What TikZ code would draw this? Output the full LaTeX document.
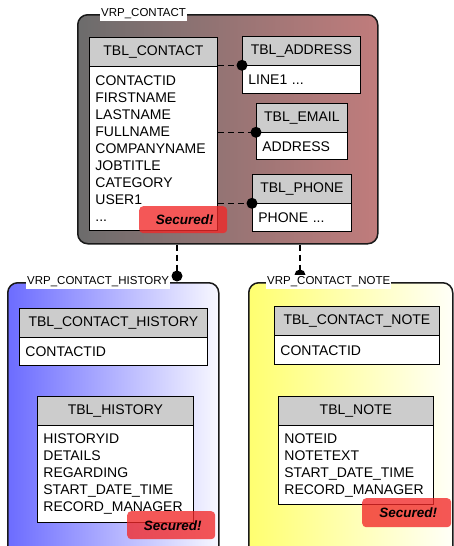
\documentclass[tikz,border=0pt]{standalone}
\usepackage{fontspec}
\setmainfont{Liberation Sans}
\usepackage{tikz}
\usetikzlibrary{arrows,backgrounds}

\definecolor{vrpgray}{RGB}{108,108,108}
\definecolor{vrprose}{RGB}{192,124,124}
\definecolor{vrpblue}{RGB}{108,108,255}
\definecolor{vrpyellow}{RGB}{255,255,112}
\definecolor{tblgray}{RGB}{204,204,204}
\definecolor{securedred}{RGB}{242,40,40}

\tikzset{
  view/.style={draw=black!90, line width=1.5pt, rounded corners=10pt, anchor=north west, inner sep=0pt},
  viewlabel/.style={fill=white, anchor=west, inner xsep=1pt, inner ysep=1.5pt, font=\fontsize{11.5}{12}\selectfont},
  tblhead/.style={draw, line width=0.8pt, fill=tblgray, anchor=north west, inner sep=0pt, minimum height=28.5pt, font=\fontsize{14}{17}\selectfont},
  tblbody/.style={draw, line width=0.8pt, fill=white, anchor=north west, inner xsep=6pt, inner ysep=0pt, align=left, font=\fontsize{14}{17}\selectfont},
  secured/.style={fill=securedred, fill opacity=0.78, text opacity=1, rounded corners=4pt, anchor=north west, inner sep=0pt, font=\fontsize{13.5}{15}\selectfont\bfseries\itshape},
  link/.style={dash pattern=on 6pt off 4pt, line width=1.3pt},
  linkdot/.style={fill, circle, inner sep=0pt, minimum size=11pt}
}

\begin{document}
\begin{tikzpicture}[x=1pt,y=-1pt]
   \useasboundingbox (0,0) rectangle (454,546);
   \clip (0,0) rectangle (454,546);

   \node[view, left color=vrpgray, right color=vrprose, minimum width=300pt, minimum height=229pt] (vrpcontact) at (77,14) {};
   \node[view, left color=vrpblue, right color=vrpblue!5, minimum width=211pt, minimum height=290pt] (vrphistory) at (7,282) {};
   \node[view, left color=vrpyellow, right color=vrpyellow!5, minimum width=204pt, minimum height=290pt] (vrpnote) at (248,282) {};

   \coordinate (histdot) at (177,276);
   \coordinate (notedot) at (300,275);
   \draw[link] (vrpcontact.south -| histdot) -- (histdot);
   \draw[link] (vrpcontact.south -| notedot) -- (notedot);
   \node[linkdot] (histdotfill) at (histdot) {};
   \node[linkdot] (notedotfill) at (notedot) {};

   \node[viewlabel] (contactlabel) at ([xshift=23pt]vrpcontact.north west) {VRP\_CONTACT};
   \node[viewlabel] (historylabel) at ([xshift=19pt]vrphistory.north west) {VRP\_CONTACT\_HISTORY};
   \node[viewlabel] (notelabel) at ([xshift=18pt]vrpnote.north west) {VRP\_CONTACT\_NOTE};

   \node[tblhead, minimum width=128pt] (contacthead) at (89,37) {TBL\_CONTACT};
   \node[tblbody, text width=116pt, minimum height=164pt] (contactbody) at (contacthead.south west)
      {CONTACTID\\FIRSTNAME\\LASTNAME\\FULLNAME\\COMPANYNAME\\JOBTITLE\\CATEGORY\\USER1\\...};

   \node[tblhead, minimum width=118pt] (addresshead) at (242,36) {TBL\_ADDRESS};
   \node[tblbody, text width=106pt, minimum height=28pt] (addressbody) at (addresshead.south west) {LINE1 ...};

   \node[tblhead, minimum width=91pt] (emailhead) at (256,103) {TBL\_EMAIL};
   \node[tblbody, text width=79pt, minimum height=27pt] (emailbody) at (emailhead.south west) {ADDRESS};

   \node[tblhead, minimum width=99pt] (phonehead) at (252,174) {TBL\_PHONE};
   \node[tblbody, text width=87pt, minimum height=28pt] (phonebody) at (phonehead.south west) {PHONE ...};

   \node[tblhead, minimum width=188pt] (contacthistoryhead) at (19,308) {TBL\_CONTACT\_HISTORY};
   \node[tblbody, text width=176pt, minimum height=28pt] (contacthistorybody) at (contacthistoryhead.south west) {CONTACTID};

   \node[tblhead, minimum width=156pt] (historyhead) at (37,396) {TBL\_HISTORY};
   \node[tblbody, text width=144pt, minimum height=97pt] (historybody) at (historyhead.south west)
      {HISTORYID\\DETAILS\\REGARDING\\START\_DATE\_TIME\\RECORD\_MANAGER};

   \node[tblhead, minimum width=165pt] (contactnotehead) at (274,306) {TBL\_CONTACT\_NOTE};
   \node[tblbody, text width=153pt, minimum height=29pt] (contactnotebody) at (contactnotehead.south west) {CONTACTID};

   \node[tblhead, minimum width=155pt] (notehead) at (278,396) {TBL\_NOTE};
   \node[tblbody, text width=143pt, minimum height=79pt] (notebody) at (notehead.south west)
      {NOTEID\\NOTETEXT\\START\_DATE\_TIME\\RECORD\_MANAGER};

   \draw[link] (addresshead.south west -| contactbody.east) -- (addresshead.south west);
   \draw[link] (emailhead.south west -| contactbody.east) -- (emailhead.south west);
   \draw[link] (phonehead.south west -| contactbody.east) -- (phonehead.south west);
   \node[linkdot] (addressdot) at (addresshead.south west) {};
   \node[linkdot] (emaildot) at (emailhead.south west) {};
   \node[linkdot] (phonedot) at (phonehead.south west) {};

   \node[secured, minimum width=88pt, minimum height=27pt] (contactsecured) at (139,206) {\hspace{3pt}Secured!};
   \node[secured, minimum width=88pt, minimum height=28pt] (historysecured) at (127,511) {\hspace{3pt}Secured!};
   \node[secured, minimum width=89pt, minimum height=29pt] (notesecured) at (362,498) {\hspace{3pt}Secured!};
\end{tikzpicture}
\end{document}
